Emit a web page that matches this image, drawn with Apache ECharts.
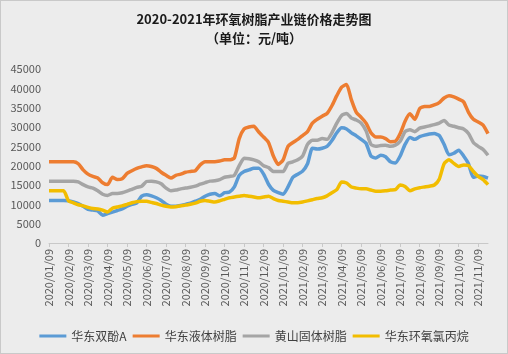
<!DOCTYPE html>
<html>
<head>
<meta charset="utf-8">
<script src="https://cdn.jsdelivr.net/npm/echarts@6/dist/echarts.min.js"></script>
<style>
  html, body { margin: 0; padding: 0; background: #fff; }
  #chart {
    width: 508px;
    height: 354px;
    box-sizing: border-box;
    border: 1px solid #c9c9c9;
    background: #ececec;
  }
</style>
</head>
<body>
<div id="chart"></div>
<script>
// month tick labels on the x axis
const tickLabels = [
  '2020/01/09', '2020/02/09', '2020/03/09', '2020/04/09', '2020/05/09', '2020/06/09',
  '2020/07/09', '2020/08/09', '2020/09/09', '2020/10/09', '2020/11/09', '2020/12/09',
  '2021/01/09', '2021/02/09', '2021/03/09', '2021/04/09', '2021/05/09', '2021/06/09',
  '2021/07/09', '2021/08/09', '2021/09/09', '2021/10/09', '2021/11/09'
]

const seriesNames = ['华东双酚A', '华东液体树脂', '黄山固体树脂', '华东环氧氯丙烷']

// weekly prices (元/吨)
const bpaEast = [
  11000, 11000, 11000, 11000, 10900, 10600, 10200, 9500, 8700, 8500, 8300, 7200,
  7600, 8000, 8400, 8800, 9500, 10000, 10400, 12100, 12500, 12200, 11700, 11000,
  10000, 9500, 9500, 9700, 10000, 10300, 10800, 11300, 12100, 12600, 12800, 12200,
  13000, 13200, 14500, 17500, 18500, 18900, 19300, 19300, 17800, 15200, 13600, 13000,
  12600, 14500, 17000, 17800, 18600, 20500, 24500, 24300, 24500, 25000, 26500, 28500,
  29800, 29500, 28500, 27700, 26800, 25800, 22500, 22000, 22700, 22300, 21000, 20700,
  22500, 25500, 27300, 26800, 27500, 27900, 28200, 28300, 27800, 25500, 22800, 23200,
  24000, 22500, 20500, 17000, 17300, 17200, 16800
]
const liquidResinEast = [
  21000, 21000, 21000, 21000, 21000, 21000, 20500, 18900, 17800, 17200, 16800, 15600,
  15100, 17000, 16400, 16600, 18000, 18700, 19300, 19700, 20000, 19800, 19300, 18300,
  17500, 16800, 17500, 17800, 18300, 18500, 18700, 20200, 21000, 21000, 21000, 21200,
  21500, 21500, 22000, 27000, 29500, 30000, 30200, 28700, 27400, 26000, 22500, 20300,
  21500, 25000, 26000, 26800, 27800, 28800, 31000, 32000, 32800, 33500, 35500, 38100,
  40300, 41000, 37000, 33800, 32500, 31000, 28500, 27400, 27400, 27000, 26200, 26300,
  28300, 31500, 33400, 32000, 34800, 35300, 35300, 35700, 36300, 37500, 38100, 37800,
  37200, 36500, 33800, 32000, 31300, 30500, 28300
]
const solidResinHuangshan = [
  16000, 16000, 16000, 16000, 16000, 16000, 15800, 15100, 14500, 14200, 13500, 12600,
  12300, 12800, 12800, 13000, 13400, 13900, 14400, 14700, 15900, 16000, 15800, 15300,
  14200, 13500, 13700, 14000, 14200, 14400, 14700, 15200, 15600, 16000, 16100, 16400,
  17000, 17200, 17500, 20000, 21900, 21800, 21500, 21000, 20000, 19500, 18500, 18500,
  18500, 20600, 21000, 21500, 22500, 25500, 26600, 26600, 27000, 26800, 28500, 31000,
  33000, 33500, 32300, 31800, 31000, 29000, 25500, 25000, 25200, 25300, 25000, 25300,
  26300, 28800, 29300, 28800, 29700, 30000, 30300, 30600, 31000, 31700, 30500, 30200,
  29800, 29500, 28300, 26000, 25000, 24200, 22700
]
const echEast = [
  13500, 13500, 13500, 13500, 10900, 10400, 9900, 9600, 9200, 8900, 8800, 8500,
  8000, 9000, 9300, 9600, 10000, 10400, 10700, 10800, 10800, 10500, 10200, 9800,
  9500, 9300, 9400, 9600, 9800, 10000, 10300, 10800, 11000, 10800, 10600, 10900,
  11300, 11700, 11900, 12100, 12300, 12100, 11900, 11700, 11900, 12100, 11500, 11000,
  10800, 10600, 10400, 10400, 10600, 10900, 11200, 11500, 11700, 12200, 13000, 13800,
  15800, 15500, 14500, 14200, 14000, 14000, 13700, 13400, 13400, 13500, 13700, 13800,
  15000, 14600, 13500, 14000, 14300, 14500, 14700, 15000, 16500, 20500, 21500, 20600,
  19800, 20200, 20000, 18500, 17200, 16400, 15100
]

const colors = ['#5b9bd5', '#ed7d31', '#a5a5a5', '#f2bd00']
const font = '"Noto Sans CJK SC", sans-serif'

// weekly categories: each month tick plus three following weeks
function pad(n) { return n < 10 ? '0' + n : '' + n }
const categories = []
tickLabels.forEach((label, idx) => {
  const [y, m] = label.split('/').map(Number)
  const weeks = idx === tickLabels.length - 1 ? 3 : 4
  for (let w = 0; w < weeks; w++) {
    const d = new Date(y, m - 1, 9 + w * 7)
    categories.push(d.getFullYear() + '/' + pad(d.getMonth() + 1) + '/' + pad(d.getDate()))
  }
})

const chart = echarts.init(document.getElementById('chart'))

const option = {
  backgroundColor: 'transparent',
  animation: false,
  color: colors,
  title: {
    text: '2020-2021年环氧树脂产业链价格走势图\n（单位：元/吨）',
    left: 'center',
    top: 9,
    padding: 0,
    textStyle: {
      fontFamily: font,
      fontSize: 13,
      fontWeight: 'bold',
      color: '#1a1a1a',
      lineHeight: 19
    }
  },
  legend: {
    bottom: 6,
    left: 'center',
    icon: 'rect',
    itemWidth: 27,
    itemHeight: 3,
    itemGap: 6,
    textStyle: { fontFamily: font, fontSize: 12, color: '#404040' },
    data: seriesNames
  },
  grid: {
    left: 48,
    right: 19,
    top: 68,
    bottom: 110,
    outerBoundsMode: 'none'
  },
  xAxis: {
    type: 'category',
    boundaryGap: false,
    data: categories,
    axisLine: { lineStyle: { color: '#c8c8c8' } },
    axisTick: { interval: 3, length: 4, lineStyle: { color: '#c8c8c8' } },
    axisLabel: {
      interval: 3,
      rotate: 90,
      margin: 6,
      fontFamily: font,
      fontSize: 11,
      color: '#595959'
    }
  },
  yAxis: {
    type: 'value',
    min: 0,
    max: 45000,
    interval: 5000,
    axisLine: { show: false },
    axisTick: { show: false },
    splitLine: { show: false },
    axisLabel: {
      margin: 8,
      fontFamily: font,
      fontSize: 11,
      color: '#595959',
      formatter: v => String(v)
    }
  },
  series: [bpaEast, liquidResinEast, solidResinHuangshan, echEast].map((vals, i) => ({
    name: seriesNames[i],
    type: 'line',
    data: vals,
    showSymbol: false,
    smooth: 0.2,
    lineStyle: { width: 3.5, color: colors[i], join: 'round' }
  }))
}

chart.setOption(option)
</script>
</body>
</html>
